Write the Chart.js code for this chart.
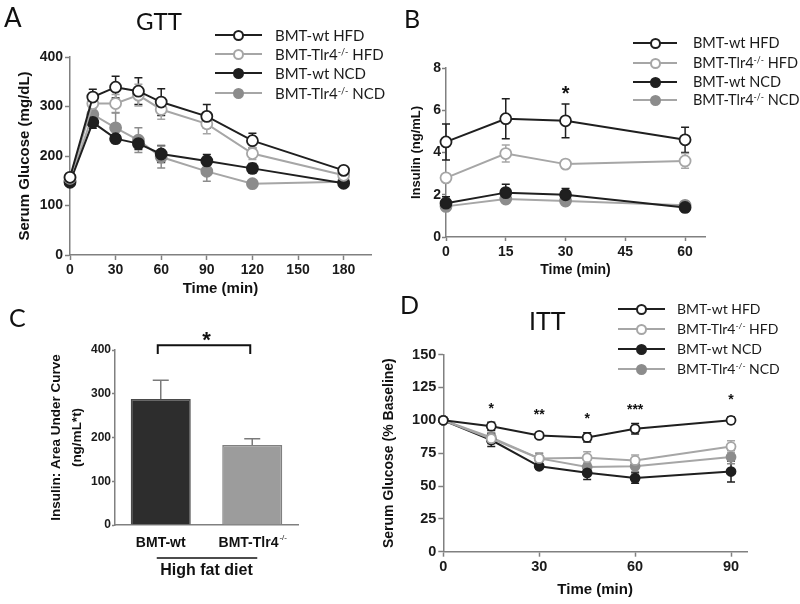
<!DOCTYPE html>
<html>
<head>
<meta charset="utf-8">
<script src="https://cdn.jsdelivr.net/npm/chart.js@4.4.0/dist/chart.umd.min.js"></script>
<style>
  body { margin: 0; background: #fff; width: 800px; height: 604px; position: relative; overflow: hidden; font-family: Lato, 'Liberation Sans', sans-serif; }
  canvas { position: absolute; }
  .lbl { position: absolute; color: #111; line-height: 1; white-space: nowrap; }
  .leg { position: absolute; height: 20px; color: #1a1a1a; white-space: nowrap; }
  .leg sup { font-size: 0.6em; vertical-align: 0.55em; line-height: 0; }
</style>
</head>
<body>
<canvas id="gtt" width="400" height="300" style="left:0;top:0"></canvas>
<canvas id="ins" width="400" height="300" style="left:400px;top:0"></canvas>
<canvas id="auc" width="370" height="304" style="left:0;top:300px"></canvas>
<canvas id="itt" width="430" height="304" style="left:370px;top:300px"></canvas>

<div class="lbl" style="left:4px;top:4px;font-size:26px">A</div>
<div class="lbl" style="left:404px;top:6px;font-size:25px">B</div>
<div class="lbl" style="left:9px;top:305px;font-size:25px">C</div>
<div class="lbl" style="left:400px;top:292px;font-size:25px">D</div>
<div class="lbl" style="left:136px;top:9px;font-size:24px">GTT</div>
<div class="lbl" style="left:529px;top:308px;font-size:25px">ITT</div>

<script>
// ---- data ----
const seriesNames = ['BMT-wt HFD', 'BMT-Tlr4-/- HFD', 'BMT-wt NCD', 'BMT-Tlr4-/- NCD'];

// A: GTT
const gttTime = [0, 15, 30, 45, 60, 90, 120, 180];
const gttWtHfd = [157, 319, 339, 331, 309, 280, 231, 171];
const gttTlrHfd = [155, 306, 306, 323, 294, 265, 205, 161];
const gttWtNcd = [147, 268, 235, 225, 204, 190, 175, 145];
const gttTlrNcd = [150, 284, 257, 232, 198, 169, 144, 148];
const gttWtHfdErr = [5, 16, 22, 27, 27, 24, 15, 6];
const gttTlrHfdErr = [5, 10, 18, 22, 20, 20, 12, 5];
const gttWtNcdErr = [5, 12, 8, 12, 17, 13, 10, 4];
const gttTlrNcdErr = [5, 20, 30, 25, 22, 20, 5, 4];
const gttTicksX = [0, 30, 60, 90, 120, 150, 180];
const gttTicksY = [0, 100, 200, 300, 400];

// B: insulin
const insTime = [0, 15, 30, 60];
const insWtHfd = [4.5, 5.6, 5.5, 4.6];
const insTlrHfd = [2.8, 3.95, 3.45, 3.6];
const insWtNcd = [1.6, 2.1, 2.0, 1.4];
const insTlrNcd = [1.45, 1.8, 1.7, 1.5];
const insWtHfdErr = [0.85, 0.95, 0.8, 0.6];
const insTlrHfdErr = [0.2, 0.4, 0.2, 0.35];
const insWtNcdErr = [0.3, 0.4, 0.3, 0.2];
const insTlrNcdErr = [0.2, 0.15, 0.15, 0.1];
const insTicksX = [0, 15, 30, 45, 60];
const insTicksY = [0, 2, 4, 6, 8];
const insStarTime = [30];
const insStarLevel = [6.96];
const insStarText = ['*'];

// C: insulin AUC
const aucLabels = ['BMT-wt', 'BMT-Tlr4-/-'];
const aucValues = [288, 183];
const aucErr = [43, 14];
const aucTicksY = [0, 100, 200, 300, 400];

// D: ITT
const ittTime = [0, 15, 30, 45, 60, 90];
const ittWtHfd = [100, 95.5, 88.5, 87, 93.5, 100];
const ittTlrHfd = [100, 86, 71, 71.5, 69.5, 80];
const ittWtNcd = [100, 85, 65, 60, 56, 61];
const ittTlrNcd = [100, 87, 71, 64.5, 65, 72];
const ittWtHfdErr = [0, 3, 2, 3.5, 4, 2.5];
const ittTlrHfdErr = [0, 4, 4, 4.5, 4, 4.5];
const ittWtNcdErr = [0, 5, 2, 5, 4, 8];
const ittTlrNcdErr = [0, 4, 4, 3, 4, 5];
const ittTicksX = [0, 30, 60, 90];
const ittTicksY = [0, 25, 50, 75, 100, 125, 150];
const ittStarTime = [15, 30, 45, 60, 90];
const ittStarLevel = [110.8, 106, 103.2, 109.8, 117.4];
const ittStarText = ['*', '**', '*', '***', '*'];

// ---- styles ----
const SANS = "'Liberation Sans', Arial, sans-serif";
const AXIS = '#808080';
const DARK = '#1f1f1f';
const LIGHT = '#a6a6a6';
const MID = '#8c8c8c';
const seriesLine = [DARK, LIGHT, DARK, LIGHT];
const seriesMark = [DARK, LIGHT, DARK, MID];
const seriesFill = ['#ffffff', '#ffffff', DARK, MID];

Chart.defaults.font.family = SANS;

function lineSets(times, values, errors, radius) {
  return values.map((vals, i) => ({
    label: seriesNames[i],
    data: times.map((t, j) => ({x: t, y: vals[j]})),
    errors: errors[i],
    borderColor: seriesLine[i],
    errorColor: seriesMark[i],
    backgroundColor: seriesFill[i],
    pointBackgroundColor: seriesFill[i],
    pointBorderColor: seriesMark[i],
    borderWidth: 2,
    pointRadius: radius,
    pointBorderWidth: 1.8,
    tension: 0,
    clip: false
  }));
}

function scaleOpts(o) {
  const s = {
    type: o.type || 'linear',
    position: o.position,
    border: {display: true, color: AXIS, width: 1.5},
    grid: {display: o.tickLength > 0, drawOnChartArea: false, drawTicks: true, tickLength: o.tickLength, tickWidth: 1.5, color: AXIS},
    ticks: {display: !o.hideLabels, padding: o.tickPad, color: '#1a1a1a', font: {weight: 'bold', size: o.tickSize}},
    title: {display: true, text: o.title, color: '#111', padding: o.titlePad,
            font: {weight: 'bold', size: o.titleSize, lineHeight: o.titleLH || 1.2}},
    afterFit: sc => { if (sc.isHorizontal()) sc.height = o.size; else sc.width = o.size; }
  };
  if (o.min !== undefined) s.min = o.min;
  if (o.max !== undefined) s.max = o.max;
  if (o.tickValues) s.afterBuildTicks = sc => { sc.ticks = o.tickValues.map(v => ({value: v})); };
  return s;
}

// error bars drawn through the chart's own y scale
function drawErrors(chart, type) {
  const ctx = chart.ctx;
  const yScale = chart.scales.y;
  chart.data.datasets.forEach((ds, di) => {
    const meta = chart.getDatasetMeta(di);
    if (!ds.errors || meta.type !== type) return;
    ctx.save();
    ctx.strokeStyle = ds.errorColor || ds.borderColor;
    ctx.lineWidth = 1.5;
    meta.data.forEach((el, i) => {
      const e = ds.errors[i];
      if (!e) return;
      const d = ds.data[i];
      const v = typeof d === 'object' ? d.y : d;
      const cw = ds.capWidth || 4;
      const top = yScale.getPixelForValue(v + e);
      const bot = yScale.getPixelForValue(ds.errorUpOnly ? v : v - e);
      ctx.beginPath();
      ctx.moveTo(el.x, top); ctx.lineTo(el.x, bot);
      ctx.moveTo(el.x - cw, top); ctx.lineTo(el.x + cw, top);
      if (!ds.errorUpOnly) { ctx.moveTo(el.x - cw, bot); ctx.lineTo(el.x + cw, bot); }
      ctx.stroke();
    });
    ctx.restore();
  });
}

const errorBars = {
  id: 'errorBars',
  beforeDatasetsDraw(chart) { drawErrors(chart, 'line'); },
  afterDatasetsDraw(chart) { drawErrors(chart, 'bar'); }
};

function starPlugin(times, levels, texts, size) {
  return {
    id: 'stars',
    afterDraw(chart) {
      const ctx = chart.ctx;
      ctx.save();
      ctx.fillStyle = '#111';
      ctx.font = `bold ${size}px ${SANS}`;
      ctx.textAlign = 'center';
      ctx.textBaseline = 'middle';
      times.forEach((t, i) => {
        ctx.fillText(texts[i], chart.scales.x.getPixelForValue(t), chart.scales.y.getPixelForValue(levels[i]) + size * 0.22);
      });
      ctx.restore();
    }
  };
}

function drawRich(ctx, text, cx, cy, size) {
  const k = text.indexOf('-/-');
  const main = k < 0 ? text : text.slice(0, k);
  const sup = k < 0 ? '' : '-/-';
  const bold = `bold ${size}px ${SANS}`;
  const small = `${Math.round(size * 0.6)}px ${SANS}`;
  ctx.font = bold; const w1 = ctx.measureText(main).width;
  ctx.font = small; const w2 = sup ? ctx.measureText(sup).width : 0;
  let x = cx - (w1 + w2) / 2;
  ctx.textAlign = 'left';
  ctx.textBaseline = 'middle';
  ctx.font = bold; ctx.fillText(main, x, cy);
  if (sup) { ctx.font = small; ctx.fillText(sup, x + w1 + 1, cy - size * 0.38); }
}

function addLegend(spec) {
  seriesNames.forEach((name, i) => {
    const row = document.createElement('div');
    row.className = 'leg';
    row.style.left = spec.x0 + 'px';
    row.style.top = (spec.rows[i] - 10) + 'px';
    row.style.fontSize = spec.size + 'px';
    const w = spec.x1 - spec.x0;
    const label = name.replace('-/-', '<sup>-/-</sup>');
    row.innerHTML =
      `<span style="position:absolute;left:0;top:9px;width:${w}px;height:2px;background:${seriesLine[i]}"></span>` +
      `<span style="position:absolute;left:${w / 2 - 5.5}px;top:4.5px;width:7px;height:7px;border:2px solid ${seriesMark[i]};border-radius:50%;background:${seriesFill[i]}"></span>` +
      `<span style="position:absolute;left:${spec.tx - spec.x0}px;top:0;line-height:20px">${label}</span>`;
    document.body.appendChild(row);
  });
}

const baseOpts = {responsive: false, animation: false, devicePixelRatio: 1,
                  plugins: {legend: {display: false}, tooltip: {enabled: false}}};

// A: GTT
new Chart(document.getElementById('gtt'), {
  type: 'line',
  data: {datasets: lineSets(gttTime, [gttWtHfd, gttTlrHfd, gttWtNcd, gttTlrNcd],
                            [gttWtHfdErr, gttTlrHfdErr, gttWtNcdErr, gttTlrNcdErr], 5.5)},
  options: Object.assign({}, baseOpts, {
    layout: {padding: {left: 0, top: 57, right: 29, bottom: 0}},
    scales: {
      x: scaleOpts({position: 'bottom', min: 0, max: 198, tickValues: gttTicksX, tickLength: 5, tickPad: 2, tickSize: 14,
                    title: 'Time (min)', titleSize: 15, titlePad: {top: 0, bottom: 2}, size: 45}),
      y: scaleOpts({position: 'left', min: 0, max: 400, tickValues: gttTicksY, tickLength: 5, tickPad: 2, tickSize: 14,
                    title: 'Serum Glucose (mg/dL)', titleSize: 15, titlePad: {top: 16, bottom: 0}, size: 70})
    }
  }),
  plugins: [errorBars]
});

// B: insulin during GTT
new Chart(document.getElementById('ins'), {
  type: 'line',
  data: {datasets: lineSets(insTime, [insWtHfd, insTlrHfd, insWtNcd, insTlrNcd],
                            [insWtHfdErr, insTlrHfdErr, insWtNcdErr, insTlrNcdErr], 5.5)},
  options: Object.assign({}, baseOpts, {
    layout: {padding: {left: 0, top: 68, right: 95, bottom: 20}},
    scales: {
      x: scaleOpts({position: 'bottom', min: 0, max: 65, tickValues: insTicksX, tickLength: 4, tickPad: 3, tickSize: 14,
                    title: 'Time (min)', titleSize: 14, titlePad: {top: 0, bottom: 1}, size: 43}),
      y: scaleOpts({position: 'left', min: 0, max: 8, tickValues: insTicksY, tickLength: 4, tickPad: 1, tickSize: 14,
                    title: 'Insulin (ng/mL)', titleSize: 13, titlePad: {top: 9, bottom: 0}, size: 46})
    }
  }),
  plugins: [errorBars, starPlugin(insStarTime, insStarLevel, insStarText, 20)]
});

// C: insulin AUC bars
const aucDecor = {
  id: 'aucDecor',
  afterDraw(chart) {
    const ctx = chart.ctx;
    const xs = chart.scales.x, ys = chart.scales.y;
    const c0 = xs.getPixelForValue(0), c1 = xs.getPixelForValue(1);
    const bottom = chart.chartArea.bottom;
    ctx.save();
    ctx.fillStyle = '#111';
    aucLabels.forEach((lab, i) => drawRich(ctx, lab, xs.getPixelForValue(i), bottom + 18, 14));
    // underline for the diet group
    ctx.strokeStyle = '#111';
    ctx.lineWidth = 1.5;
    ctx.beginPath();
    ctx.moveTo(c0 - 4, bottom + 33); ctx.lineTo(c1 + 5, bottom + 33);
    ctx.stroke();
    // significance bracket
    const yb = ys.getPixelForValue(411), yl = ys.getPixelForValue(391);
    ctx.lineWidth = 2;
    ctx.beginPath();
    ctx.moveTo(c0 - 3, yl); ctx.lineTo(c0 - 3, yb); ctx.lineTo(c1 - 2, yb); ctx.lineTo(c1 - 2, yl);
    ctx.stroke();
    ctx.font = `bold 22px ${SANS}`;
    ctx.textAlign = 'center';
    ctx.textBaseline = 'middle';
    ctx.fillText('*', (c0 + c1) / 2, ys.getPixelForValue(432) + 22 * 0.22);
    ctx.restore();
  }
};

new Chart(document.getElementById('auc'), {
  type: 'bar',
  data: {
    labels: aucLabels,
    datasets: [{
      data: aucValues,
      errors: aucErr,
      errorUpOnly: true,
      capWidth: 8,
      errorColor: '#7a7a7a',
      backgroundColor: ['#2d2d2d', '#9c9c9c'],
      borderColor: ['#4a4a4a', '#808080'],
      borderWidth: 1.5,
      barPercentage: 0.656,
      categoryPercentage: 1
    }]
  },
  options: Object.assign({}, baseOpts, {
    layout: {padding: {left: 0, top: 50, right: 72, bottom: 23.4}},
    scales: {
      x: scaleOpts({type: 'category', position: 'bottom', tickLength: 0, tickPad: 0, tickSize: 14, hideLabels: true,
                    title: 'High fat diet', titleSize: 16, titlePad: {top: 0, bottom: 0}, size: 55.6}),
      y: scaleOpts({position: 'left', min: 0, max: 400, tickValues: aucTicksY, tickLength: 3, tickPad: 1, tickSize: 12,
                    title: ['Insulin: Area Under Curve', '(ng/mL*t)'], titleSize: 13.5, titleLH: 1.6,
                    titlePad: {top: 45, bottom: 0}, size: 115})
    }
  }),
  plugins: [errorBars, aucDecor]
});

// D: ITT
new Chart(document.getElementById('itt'), {
  type: 'line',
  data: {datasets: lineSets(ittTime, [ittWtHfd, ittTlrHfd, ittWtNcd, ittTlrNcd],
                            [ittWtHfdErr, ittTlrHfdErr, ittWtNcdErr, ittTlrNcdErr], 4.5)},
  options: Object.assign({}, baseOpts, {
    layout: {padding: {left: 0, top: 54.6, right: 53, bottom: 3}},
    scales: {
      x: scaleOpts({position: 'bottom', min: 0, max: 95, tickValues: ittTicksX, tickLength: 5, tickPad: 2, tickSize: 14.5,
                    title: 'Time (min)', titleSize: 15, titlePad: {top: 0, bottom: 2}, size: 49.3}),
      y: scaleOpts({position: 'left', min: 0, max: 150, tickValues: ittTicksY, tickLength: 5, tickPad: 2, tickSize: 14.5,
                    title: 'Serum Glucose (% Baseline)', titleSize: 14, titlePad: {top: 10.6, bottom: 0}, size: 73.3})
    }
  }),
  plugins: [errorBars, starPlugin(ittStarTime, ittStarLevel, ittStarText, 14)]
});

addLegend({x0: 215, x1: 262, tx: 275, rows: [35, 54, 73, 93], size: 15});
addLegend({x0: 633, x1: 677, tx: 693, rows: [43, 63, 82, 100], size: 14.5});
addLegend({x0: 618, x1: 665, tx: 677, rows: [309, 329, 349, 369], size: 14});
</script>
</body>
</html>
